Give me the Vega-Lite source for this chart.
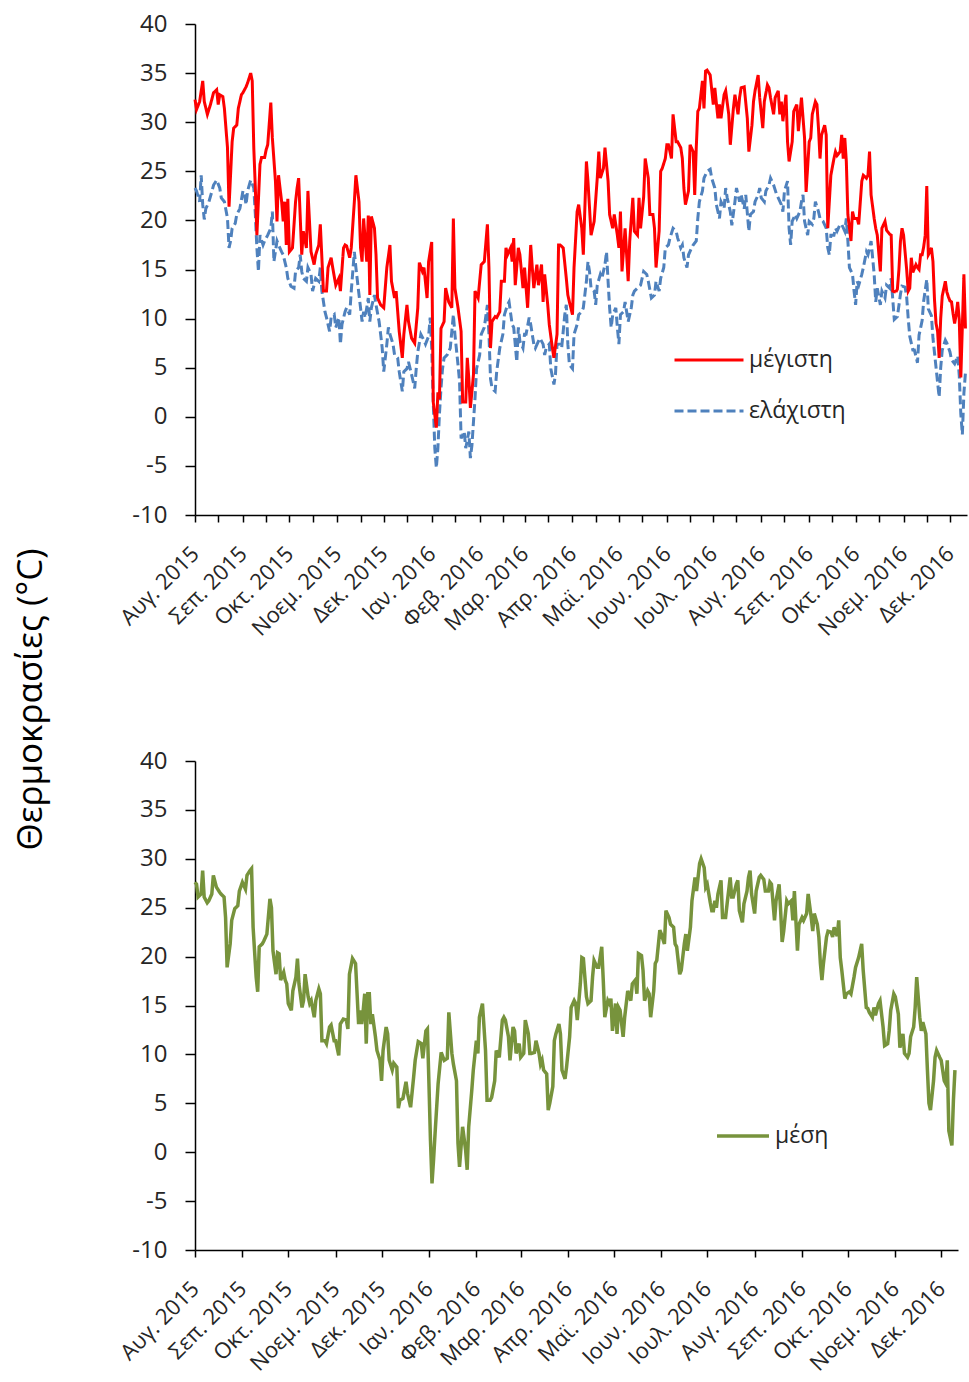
{
"$schema":"https://vega.github.io/schema/vega-lite/v6.json",
"background":"white",
"padding":{"left":13,"top":12,"right":2,"bottom":2},
"config":{"font":"Open Sans","view":{"stroke":null},
"axis":{"domainColor":"#000","domainWidth":1.5,"tickColor":"#000","tickWidth":1.5,"grid":false,"labelColor":"#262626","labelFont":"Open Sans","titleFont":"Open Sans","titleColor":"#000","titleFontWeight":"normal"},
"legend":{"labelFont":"Open Sans","labelColor":"#262626","labelFontSize":23}},
"datasets":{
"t":[
{"d":"2015-08-01","s":"μέγιστη","v":32.3},{"d":"2015-08-02","s":"μέγιστη","v":31.3},{"d":"2015-08-04","s":"μέγιστη","v":32.1},{"d":"2015-08-06","s":"μέγιστη","v":34.2},{"d":"2015-08-07","s":"μέγιστη","v":32.1},{"d":"2015-08-09","s":"μέγιστη","v":30.8},{"d":"2015-08-11","s":"μέγιστη","v":31.8},{"d":"2015-08-13","s":"μέγιστη","v":33},{"d":"2015-08-15","s":"μέγιστη","v":33.3},{"d":"2015-08-16","s":"μέγιστη","v":31.8},{"d":"2015-08-17","s":"μέγιστη","v":32.8},{"d":"2015-08-19","s":"μέγιστη","v":32.6},{"d":"2015-08-20","s":"μέγιστη","v":31.4},{"d":"2015-08-22","s":"μέγιστη","v":27.4},{"d":"2015-08-23","s":"μέγιστη","v":21.4},{"d":"2015-08-25","s":"μέγιστη","v":28},{"d":"2015-08-26","s":"μέγιστη","v":29.4},{"d":"2015-08-28","s":"μέγιστη","v":29.7},{"d":"2015-08-29","s":"μέγιστη","v":31.4},{"d":"2015-08-31","s":"μέγιστη","v":32.8},
{"d":"2015-09-01","s":"μέγιστη","v":33},{"d":"2015-09-03","s":"μέγιστη","v":33.6},{"d":"2015-09-04","s":"μέγιστη","v":34},{"d":"2015-09-06","s":"μέγιστη","v":35},{"d":"2015-09-07","s":"μέγιστη","v":34.2},{"d":"2015-09-08","s":"μέγιστη","v":27.4},{"d":"2015-09-09","s":"μέγιστη","v":23.3},{"d":"2015-09-10","s":"μέγιστη","v":18.5},{"d":"2015-09-12","s":"μέγιστη","v":25.7},{"d":"2015-09-13","s":"μέγιστη","v":26.4},{"d":"2015-09-15","s":"μέγιστη","v":26.4},{"d":"2015-09-16","s":"μέγιστη","v":27.2},{"d":"2015-09-17","s":"μέγιστη","v":27.7},{"d":"2015-09-19","s":"μέγιστη","v":32},{"d":"2015-09-20","s":"μέγιστη","v":28.4},{"d":"2015-09-22","s":"μέγιστη","v":24},{"d":"2015-09-23","s":"μέγιστη","v":19.9},{"d":"2015-09-24","s":"μέγιστη","v":24.6},{"d":"2015-09-26","s":"μέγιστη","v":21.9},{"d":"2015-09-27","s":"μέγιστη","v":19.9},{"d":"2015-09-28","s":"μέγιστη","v":21.9},{"d":"2015-09-29","s":"μέγιστη","v":17.5},{"d":"2015-09-30","s":"μέγιστη","v":22.2},
{"d":"2015-10-01","s":"μέγιστη","v":16.8},{"d":"2015-10-03","s":"μέγιστη","v":17.2},{"d":"2015-10-05","s":"μέγιστη","v":21.9},{"d":"2015-10-06","s":"μέγιστη","v":23.3},{"d":"2015-10-07","s":"μέγιστη","v":24.3},{"d":"2015-10-09","s":"μέγιστη","v":16.5},{"d":"2015-10-10","s":"μέγιστη","v":18.9},{"d":"2015-10-12","s":"μέγιστη","v":17.2},{"d":"2015-10-13","s":"μέγιστη","v":23},{"d":"2015-10-15","s":"μέγιστη","v":16.8},{"d":"2015-10-17","s":"μέγιστη","v":15.5},{"d":"2015-10-18","s":"μέγιστη","v":16.5},{"d":"2015-10-20","s":"μέγιστη","v":17.5},{"d":"2015-10-21","s":"μέγιστη","v":19.6},{"d":"2015-10-23","s":"μέγιστη","v":12.8},{"d":"2015-10-25","s":"μέγιστη","v":12.8},{"d":"2015-10-26","s":"μέγιστη","v":15.2},{"d":"2015-10-28","s":"μέγιστη","v":16.2},{"d":"2015-10-29","s":"μέγιστη","v":15.2},{"d":"2015-10-31","s":"μέγιστη","v":13.4},
{"d":"2015-11-02","s":"μέγιστη","v":14.1},{"d":"2015-11-03","s":"μέγιστη","v":12.8},{"d":"2015-11-05","s":"μέγιστη","v":17.2},{"d":"2015-11-06","s":"μέγιστη","v":17.5},{"d":"2015-11-07","s":"μέγιστη","v":17.4},{"d":"2015-11-09","s":"μέγιστη","v":16.2},{"d":"2015-11-10","s":"μέγιστη","v":17.2},{"d":"2015-11-12","s":"μέγιστη","v":21.9},{"d":"2015-11-13","s":"μέγιστη","v":24.6},{"d":"2015-11-15","s":"μέγιστη","v":21.9},{"d":"2015-11-16","s":"μέγιστη","v":17.2},{"d":"2015-11-17","s":"μέγιστη","v":15.8},{"d":"2015-11-18","s":"μέγιστη","v":20.2},{"d":"2015-11-20","s":"μέγιστη","v":15.8},{"d":"2015-11-21","s":"μέγιστη","v":20.5},{"d":"2015-11-22","s":"μέγιστη","v":12.4},{"d":"2015-11-23","s":"μέγιστη","v":20.4},{"d":"2015-11-25","s":"μέγιστη","v":19.2},{"d":"2015-11-26","s":"μέγιστη","v":16.5},{"d":"2015-11-27","s":"μέγιστη","v":12.1},{"d":"2015-11-29","s":"μέγιστη","v":11.4},
{"d":"2015-12-01","s":"μέγιστη","v":11.1},{"d":"2015-12-03","s":"μέγιστη","v":15.2},{"d":"2015-12-05","s":"μέγιστη","v":17.5},{"d":"2015-12-06","s":"μέγιστη","v":13.8},{"d":"2015-12-08","s":"μέγιστη","v":12.1},{"d":"2015-12-09","s":"μέγιστη","v":12.8},{"d":"2015-12-11","s":"μέγιστη","v":8.7},{"d":"2015-12-13","s":"μέγιστη","v":6},{"d":"2015-12-14","s":"μέγιστη","v":8.4},{"d":"2015-12-16","s":"μέγιστη","v":11.4},{"d":"2015-12-17","s":"μέγιστη","v":9.7},{"d":"2015-12-19","s":"μέγιστη","v":8},{"d":"2015-12-21","s":"μέγιστη","v":7.5},{"d":"2015-12-23","s":"μέγιστη","v":11.1},{"d":"2015-12-24","s":"μέγιστη","v":15.7},{"d":"2015-12-26","s":"μέγιστη","v":14.8},{"d":"2015-12-27","s":"μέγιστη","v":15.2},{"d":"2015-12-29","s":"μέγιστη","v":12.1},{"d":"2015-12-30","s":"μέγιστη","v":15.8},
{"d":"2016-01-01","s":"μέγιστη","v":17.8},{"d":"2016-01-02","s":"μέγιστη","v":1.5},{"d":"2016-01-04","s":"μέγιστη","v":-1.1},{"d":"2016-01-05","s":"μέγιστη","v":2.5},{"d":"2016-01-06","s":"μέγιστη","v":1.8},{"d":"2016-01-07","s":"μέγιστη","v":9},{"d":"2016-01-09","s":"μέγιστη","v":9.7},{"d":"2016-01-10","s":"μέγιστη","v":13.1},{"d":"2016-01-12","s":"μέγιστη","v":11.7},{"d":"2016-01-14","s":"μέγιστη","v":11.1},{"d":"2016-01-15","s":"μέγιστη","v":20.2},{"d":"2016-01-16","s":"μέγιστη","v":13.1},{"d":"2016-01-18","s":"μέγιστη","v":11.1},{"d":"2016-01-20","s":"μέγιστη","v":8.7},{"d":"2016-01-21","s":"μέγιστη","v":1.5},{"d":"2016-01-23","s":"μέγιστη","v":1.5},{"d":"2016-01-24","s":"μέγιστη","v":6},{"d":"2016-01-25","s":"μέγιστη","v":3.9},{"d":"2016-01-26","s":"μέγιστη","v":0.9},{"d":"2016-01-28","s":"μέγιστη","v":4.3},{"d":"2016-01-29","s":"μέγιστη","v":12.8},{"d":"2016-01-31","s":"μέγιστη","v":12.1},
{"d":"2016-02-01","s":"μέγιστη","v":13.8},{"d":"2016-02-02","s":"μέγιστη","v":15.5},{"d":"2016-02-04","s":"μέγιστη","v":15.8},{"d":"2016-02-06","s":"μέγιστη","v":19.6},{"d":"2016-02-07","s":"μέγιστη","v":15.2},{"d":"2016-02-08","s":"μέγιστη","v":7},{"d":"2016-02-09","s":"μέγιστη","v":9.7},{"d":"2016-02-11","s":"μέγιστη","v":10.2},{"d":"2016-02-12","s":"μέγιστη","v":10.1},{"d":"2016-02-14","s":"μέγιστη","v":10.7},{"d":"2016-02-15","s":"μέγιστη","v":13.8},{"d":"2016-02-17","s":"μέγιστη","v":13.8},{"d":"2016-02-18","s":"μέγιστη","v":17.2},{"d":"2016-02-19","s":"μέγιστη","v":16.5},{"d":"2016-02-21","s":"μέγιστη","v":17.2},{"d":"2016-02-22","s":"μέγιστη","v":15.8},{"d":"2016-02-23","s":"μέγιστη","v":18.2},{"d":"2016-02-24","s":"μέγιστη","v":13.4},{"d":"2016-02-26","s":"μέγιστη","v":17.2},{"d":"2016-02-27","s":"μέγιστη","v":16.5},{"d":"2016-02-29","s":"μέγιστη","v":13.1},
{"d":"2016-03-01","s":"μέγιστη","v":15.2},{"d":"2016-03-03","s":"μέγιστη","v":11.1},{"d":"2016-03-05","s":"μέγιστη","v":17.5},{"d":"2016-03-06","s":"μέγιστη","v":15.2},{"d":"2016-03-07","s":"μέγιστη","v":13.1},{"d":"2016-03-09","s":"μέγιστη","v":15.5},{"d":"2016-03-10","s":"μέγιστη","v":13.4},{"d":"2016-03-12","s":"μέγιστη","v":15.5},{"d":"2016-03-13","s":"μέγιστη","v":11.7},{"d":"2016-03-14","s":"μέγιστη","v":14.5},{"d":"2016-03-16","s":"μέγιστη","v":11.4},{"d":"2016-03-17","s":"μέγιστη","v":9.4},{"d":"2016-03-19","s":"μέγιστη","v":7},{"d":"2016-03-20","s":"μέγιστη","v":6},{"d":"2016-03-22","s":"μέγιστη","v":8.4},{"d":"2016-03-23","s":"μέγιστη","v":17.5},{"d":"2016-03-24","s":"μέγιστη","v":17.5},{"d":"2016-03-26","s":"μέγιστη","v":17.2},{"d":"2016-03-28","s":"μέγιστη","v":14.1},{"d":"2016-03-29","s":"μέγιστη","v":12.4},{"d":"2016-03-30","s":"μέγιστη","v":11.7},
{"d":"2016-04-01","s":"μέγιστη","v":10.4},{"d":"2016-04-02","s":"μέγιστη","v":15.2},{"d":"2016-04-04","s":"μέγιστη","v":20.9},{"d":"2016-04-05","s":"μέγιστη","v":21.6},{"d":"2016-04-07","s":"μέγιστη","v":19.2},{"d":"2016-04-08","s":"μέγιστη","v":16.5},{"d":"2016-04-10","s":"μέγιστη","v":26},{"d":"2016-04-11","s":"μέγιστη","v":24},{"d":"2016-04-12","s":"μέγιστη","v":21.3},{"d":"2016-04-13","s":"μέγιστη","v":18.5},{"d":"2016-04-15","s":"μέγιστη","v":19.9},{"d":"2016-04-17","s":"μέγιστη","v":24.3},{"d":"2016-04-18","s":"μέγιστη","v":27},{"d":"2016-04-19","s":"μέγιστη","v":24.3},{"d":"2016-04-21","s":"μέγιστη","v":25.3},{"d":"2016-04-22","s":"μέγιστη","v":27.4},{"d":"2016-04-24","s":"μέγιστη","v":24},{"d":"2016-04-25","s":"μέγιστη","v":20.6},{"d":"2016-04-27","s":"μέγιστη","v":19.2},{"d":"2016-04-28","s":"μέγιστη","v":20.6},{"d":"2016-04-30","s":"μέγιστη","v":18.5},
{"d":"2016-05-01","s":"μέγιστη","v":17.2},{"d":"2016-05-02","s":"μέγιστη","v":20.9},{"d":"2016-05-03","s":"μέγιστη","v":14.8},{"d":"2016-05-05","s":"μέγιστη","v":19.2},{"d":"2016-05-06","s":"μέγιστη","v":16.5},{"d":"2016-05-07","s":"μέγιστη","v":13.8},{"d":"2016-05-08","s":"μέγιστη","v":17.9},{"d":"2016-05-10","s":"μέγιστη","v":22.3},{"d":"2016-05-11","s":"μέγιστη","v":18.9},{"d":"2016-05-13","s":"μέγιστη","v":18.5},{"d":"2016-05-14","s":"μέγιστη","v":22.3},{"d":"2016-05-15","s":"μέγιστη","v":19.2},{"d":"2016-05-17","s":"μέγιστη","v":22.4},{"d":"2016-05-18","s":"μέγιστη","v":26.3},{"d":"2016-05-20","s":"μέγιστη","v":24.3},{"d":"2016-05-21","s":"μέγιστη","v":20.6},{"d":"2016-05-23","s":"μέγιστη","v":20.6},{"d":"2016-05-24","s":"μέγιστη","v":19.2},{"d":"2016-05-25","s":"μέγιστη","v":15.2},{"d":"2016-05-27","s":"μέγιστη","v":18.9},{"d":"2016-05-28","s":"μέγιστη","v":25},{"d":"2016-05-29","s":"μέγιστη","v":25.3},{"d":"2016-05-31","s":"μέγιστη","v":26.3},
{"d":"2016-06-01","s":"μέγιστη","v":27.7},{"d":"2016-06-02","s":"μέγιστη","v":27.7},{"d":"2016-06-04","s":"μέγιστη","v":26.3},{"d":"2016-06-05","s":"μέγιστη","v":30.8},{"d":"2016-06-07","s":"μέγιστη","v":28},{"d":"2016-06-08","s":"μέγιστη","v":28},{"d":"2016-06-10","s":"μέγιστη","v":27.4},{"d":"2016-06-11","s":"μέγιστη","v":26.3},{"d":"2016-06-12","s":"μέγιστη","v":23.3},{"d":"2016-06-13","s":"μέγιστη","v":21.6},{"d":"2016-06-15","s":"μέγιστη","v":23},{"d":"2016-06-16","s":"μέγιστη","v":27.7},{"d":"2016-06-18","s":"μέγιστη","v":27},{"d":"2016-06-19","s":"μέγιστη","v":22.6},{"d":"2016-06-20","s":"μέγιστη","v":27.4},{"d":"2016-06-21","s":"μέγιστη","v":31.1},{"d":"2016-06-22","s":"μέγιστη","v":31.4},{"d":"2016-06-24","s":"μέγιστη","v":34.2},{"d":"2016-06-25","s":"μέγιστη","v":31.4},{"d":"2016-06-26","s":"μέγιστη","v":35.2},{"d":"2016-06-27","s":"μέγιστη","v":35.3},{"d":"2016-06-29","s":"μέγιστη","v":34.8},
{"d":"2016-07-01","s":"μέγιστη","v":31.8},{"d":"2016-07-02","s":"μέγιστη","v":33.5},{"d":"2016-07-04","s":"μέγιστη","v":30.4},{"d":"2016-07-05","s":"μέγιστη","v":31.8},{"d":"2016-07-06","s":"μέγιστη","v":30.4},{"d":"2016-07-08","s":"μέγιστη","v":32.8},{"d":"2016-07-09","s":"μέγιστη","v":33.2},{"d":"2016-07-11","s":"μέγιστη","v":30.8},{"d":"2016-07-12","s":"μέγιστη","v":27.7},{"d":"2016-07-14","s":"μέγιστη","v":31.4},{"d":"2016-07-15","s":"μέγιστη","v":32.8},{"d":"2016-07-17","s":"μέγιστη","v":30.8},{"d":"2016-07-18","s":"μέγιστη","v":32.5},{"d":"2016-07-19","s":"μέγιστη","v":33.5},{"d":"2016-07-21","s":"μέγιστη","v":33.6},{"d":"2016-07-23","s":"μέγιστη","v":30.4},{"d":"2016-07-24","s":"μέγιστη","v":27},{"d":"2016-07-26","s":"μέγιστη","v":29.7},{"d":"2016-07-27","s":"μέγιστη","v":32.1},{"d":"2016-07-28","s":"μέγιστη","v":33.2},{"d":"2016-07-30","s":"μέγιστη","v":34.8},{"d":"2016-07-31","s":"μέγιστη","v":32.5},
{"d":"2016-08-02","s":"μέγιστη","v":29.4},{"d":"2016-08-03","s":"μέγιστη","v":32.1},{"d":"2016-08-05","s":"μέγιστη","v":33.8},{"d":"2016-08-06","s":"μέγιστη","v":33.5},{"d":"2016-08-07","s":"μέγιστη","v":32.5},{"d":"2016-08-09","s":"μέγιστη","v":30.8},{"d":"2016-08-10","s":"μέγιστη","v":32.5},{"d":"2016-08-12","s":"μέγιστη","v":33.2},{"d":"2016-08-13","s":"μέγιστη","v":30.8},{"d":"2016-08-14","s":"μέγιστη","v":32.1},{"d":"2016-08-15","s":"μέγιστη","v":30.1},{"d":"2016-08-17","s":"μέγιστη","v":32.8},{"d":"2016-08-18","s":"μέγιστη","v":28},{"d":"2016-08-19","s":"μέγιστη","v":26},{"d":"2016-08-21","s":"μέγιστη","v":28},{"d":"2016-08-22","s":"μέγιστη","v":31.1},{"d":"2016-08-24","s":"μέγιστη","v":31.8},{"d":"2016-08-25","s":"μέγιστη","v":29.1},{"d":"2016-08-26","s":"μέγιστη","v":30.8},{"d":"2016-08-27","s":"μέγιστη","v":32.5},{"d":"2016-08-29","s":"μέγιστη","v":28.4},{"d":"2016-08-30","s":"μέγιστη","v":22.9},
{"d":"2016-09-01","s":"μέγιστη","v":28},{"d":"2016-09-02","s":"μέγιστη","v":28.4},{"d":"2016-09-03","s":"μέγιστη","v":30.8},{"d":"2016-09-05","s":"μέγιστη","v":32.1},{"d":"2016-09-06","s":"μέγιστη","v":31.8},{"d":"2016-09-07","s":"μέγιστη","v":29.4},{"d":"2016-09-08","s":"μέγιστη","v":26.3},{"d":"2016-09-09","s":"μέγιστη","v":28.7},{"d":"2016-09-11","s":"μέγιστη","v":29.7},{"d":"2016-09-12","s":"μέγιστη","v":28.7},{"d":"2016-09-13","s":"μέγιστη","v":19.2},{"d":"2016-09-15","s":"μέγιστη","v":24.6},{"d":"2016-09-17","s":"μέγιστη","v":26.3},{"d":"2016-09-18","s":"μέγιστη","v":27},{"d":"2016-09-19","s":"μέγιστη","v":26.6},{"d":"2016-09-21","s":"μέγιστη","v":27},{"d":"2016-09-22","s":"μέγιστη","v":28.7},{"d":"2016-09-23","s":"μέγιστη","v":26.3},{"d":"2016-09-24","s":"μέγιστη","v":28.4},{"d":"2016-09-25","s":"μέγιστη","v":26},{"d":"2016-09-26","s":"μέγιστη","v":20.6},{"d":"2016-09-28","s":"μέγιστη","v":17.9},{"d":"2016-09-29","s":"μέγιστη","v":20.9},{"d":"2016-09-30","s":"μέγιστη","v":20.2},
{"d":"2016-10-02","s":"μέγιστη","v":20.2},{"d":"2016-10-03","s":"μέγιστη","v":19.6},{"d":"2016-10-05","s":"μέγιστη","v":24},{"d":"2016-10-06","s":"μέγιστη","v":24.6},{"d":"2016-10-08","s":"μέγιστη","v":24.3},{"d":"2016-10-09","s":"μέγιστη","v":24.6},{"d":"2016-10-10","s":"μέγιστη","v":27},{"d":"2016-10-11","s":"μέγιστη","v":22.6},{"d":"2016-10-13","s":"μέγιστη","v":20.2},{"d":"2016-10-14","s":"μέγιστη","v":19.2},{"d":"2016-10-15","s":"μέγιστη","v":18.5},{"d":"2016-10-17","s":"μέγιστη","v":14.8},{"d":"2016-10-18","s":"μέγιστη","v":19.2},{"d":"2016-10-20","s":"μέγιστη","v":19.9},{"d":"2016-10-21","s":"μέγιστη","v":19},{"d":"2016-10-23","s":"μέγιστη","v":18.6},{"d":"2016-10-24","s":"μέγιστη","v":18.5},{"d":"2016-10-25","s":"μέγιστη","v":12.8},{"d":"2016-10-27","s":"μέγιστη","v":12.7},{"d":"2016-10-28","s":"μέγιστη","v":13},{"d":"2016-10-29","s":"μέγιστη","v":15},{"d":"2016-10-30","s":"μέγιστη","v":17.9},{"d":"2016-10-31","s":"μέγιστη","v":19.2},
{"d":"2016-11-01","s":"μέγιστη","v":18.5},{"d":"2016-11-03","s":"μέγιστη","v":15},{"d":"2016-11-04","s":"μέγιστη","v":12.8},{"d":"2016-11-05","s":"μέγιστη","v":13.1},{"d":"2016-11-06","s":"μέγιστη","v":16.2},{"d":"2016-11-07","s":"μέγιστη","v":14.7},{"d":"2016-11-09","s":"μέγιστη","v":15.5},{"d":"2016-11-10","s":"μέγιστη","v":15.2},{"d":"2016-11-11","s":"μέγιστη","v":15},{"d":"2016-11-12","s":"μέγιστη","v":16.5},{"d":"2016-11-13","s":"μέγιστη","v":16.5},{"d":"2016-11-14","s":"μέγιστη","v":17.3},{"d":"2016-11-15","s":"μέγιστη","v":18.5},{"d":"2016-11-16","s":"μέγιστη","v":23.5},{"d":"2016-11-17","s":"μέγιστη","v":16.5},{"d":"2016-11-18","s":"μέγιστη","v":16.8},{"d":"2016-11-19","s":"μέγιστη","v":17.2},{"d":"2016-11-20","s":"μέγιστη","v":15.8},{"d":"2016-11-21","s":"μέγιστη","v":11.9},{"d":"2016-11-22","s":"μέγιστη","v":9.5},{"d":"2016-11-23","s":"μέγιστη","v":8.7},{"d":"2016-11-24","s":"μέγιστη","v":6},{"d":"2016-11-25","s":"μέγιστη","v":10},{"d":"2016-11-26","s":"μέγιστη","v":12.3},{"d":"2016-11-28","s":"μέγιστη","v":13.8},{"d":"2016-11-29","s":"μέγιστη","v":12.7},{"d":"2016-11-30","s":"μέγιστη","v":12.2},
{"d":"2016-12-01","s":"μέγιστη","v":11.8},{"d":"2016-12-02","s":"μέγιστη","v":11.7},{"d":"2016-12-03","s":"μέγιστη","v":10.5},{"d":"2016-12-04","s":"μέγιστη","v":9.5},{"d":"2016-12-05","s":"μέγιστη","v":10.4},{"d":"2016-12-06","s":"μέγιστη","v":11.7},{"d":"2016-12-07","s":"μέγιστη","v":9.9},{"d":"2016-12-08","s":"μέγιστη","v":4},{"d":"2016-12-10","s":"μέγιστη","v":14.5},{"d":"2016-12-11","s":"μέγιστη","v":9},
{"d":"2015-08-01","s":"ελάχιστη","v":23.3},{"d":"2015-08-02","s":"ελάχιστη","v":23},{"d":"2015-08-04","s":"ελάχιστη","v":21.9},{"d":"2015-08-05","s":"ελάχιστη","v":24.6},{"d":"2015-08-06","s":"ελάχιστη","v":21.6},{"d":"2015-08-07","s":"ελάχιστη","v":20.1},{"d":"2015-08-08","s":"ελάχιστη","v":21.2},{"d":"2015-08-10","s":"ελάχιστη","v":21.9},{"d":"2015-08-12","s":"ελάχιστη","v":23},{"d":"2015-08-13","s":"ελάχιστη","v":23.6},{"d":"2015-08-15","s":"ελάχιστη","v":24.1},{"d":"2015-08-17","s":"ελάχιστη","v":23.3},{"d":"2015-08-18","s":"ελάχιστη","v":22.3},{"d":"2015-08-20","s":"ελάχιστη","v":21.9},{"d":"2015-08-22","s":"ελάχιστη","v":20.2},{"d":"2015-08-23","s":"ελάχιστη","v":17.2},{"d":"2015-08-24","s":"ελάχιστη","v":17.9},{"d":"2015-08-25","s":"ελάχιστη","v":19.2},{"d":"2015-08-27","s":"ελάχιστη","v":19.7},{"d":"2015-08-28","s":"ελάχιστη","v":20.6},{"d":"2015-08-30","s":"ελάχιστη","v":21.2},
{"d":"2015-09-01","s":"ελάχιστη","v":23},{"d":"2015-09-02","s":"ελάχιστη","v":22.6},{"d":"2015-09-03","s":"ελάχιστη","v":21.6},{"d":"2015-09-04","s":"ελάχιστη","v":23},{"d":"2015-09-06","s":"ελάχιστη","v":24.1},{"d":"2015-09-08","s":"ελάχιστη","v":23.3},{"d":"2015-09-09","s":"ελάχιστη","v":20.6},{"d":"2015-09-10","s":"ελάχιστη","v":17.2},{"d":"2015-09-11","s":"ελάχιστη","v":14.8},{"d":"2015-09-12","s":"ελάχιστη","v":18.5},{"d":"2015-09-14","s":"ελάχιστη","v":17.5},{"d":"2015-09-15","s":"ελάχιστη","v":17.9},{"d":"2015-09-17","s":"ελάχιστη","v":18.5},{"d":"2015-09-19","s":"ελάχιστη","v":19.2},{"d":"2015-09-20","s":"ελάχιστη","v":20.9},{"d":"2015-09-21","s":"ελάχιστη","v":15.8},{"d":"2015-09-23","s":"ελάχιστη","v":17.9},{"d":"2015-09-24","s":"ελάχιστη","v":17.5},{"d":"2015-09-26","s":"ελάχιστη","v":16.8},{"d":"2015-09-27","s":"ελάχιστη","v":16.5},{"d":"2015-09-29","s":"ελάχιστη","v":15.2},{"d":"2015-09-30","s":"ελάχιστη","v":14.1},
{"d":"2015-10-02","s":"ελάχιστη","v":13.3},{"d":"2015-10-04","s":"ελάχιστη","v":13.1},{"d":"2015-10-05","s":"ελάχιστη","v":14.8},{"d":"2015-10-07","s":"ελάχιστη","v":15.2},{"d":"2015-10-08","s":"ελάχιστη","v":16.5},{"d":"2015-10-09","s":"ελάχιστη","v":14.8},{"d":"2015-10-10","s":"ελάχιστη","v":14.1},{"d":"2015-10-12","s":"ελάχιστη","v":13.8},{"d":"2015-10-13","s":"ελάχιστη","v":15.2},{"d":"2015-10-15","s":"ελάχιστη","v":14.5},{"d":"2015-10-16","s":"ελάχιστη","v":12.8},{"d":"2015-10-18","s":"ελάχιστη","v":14.1},{"d":"2015-10-20","s":"ελάχιστη","v":13.8},{"d":"2015-10-21","s":"ελάχιστη","v":15.2},{"d":"2015-10-22","s":"ελάχιστη","v":12.8},{"d":"2015-10-24","s":"ελάχιστη","v":10.7},{"d":"2015-10-25","s":"ελάχιστη","v":10.1},{"d":"2015-10-27","s":"ελάχιστη","v":8.7},{"d":"2015-10-28","s":"ελάχιστη","v":10.1},{"d":"2015-10-30","s":"ελάχιστη","v":10.4},{"d":"2015-10-31","s":"ελάχιστη","v":9.1},
{"d":"2015-11-02","s":"ελάχιστη","v":10.1},{"d":"2015-11-03","s":"ελάχιστη","v":7.4},{"d":"2015-11-04","s":"ελάχιστη","v":9.4},{"d":"2015-11-06","s":"ελάχιστη","v":10.7},{"d":"2015-11-07","s":"ελάχιστη","v":11.1},{"d":"2015-11-09","s":"ελάχιστη","v":10.4},{"d":"2015-11-10","s":"ελάχιστη","v":12.8},{"d":"2015-11-12","s":"ελάχιστη","v":16.8},{"d":"2015-11-13","s":"ελάχιστη","v":15.2},{"d":"2015-11-14","s":"ελάχιστη","v":13.8},{"d":"2015-11-16","s":"ελάχιστη","v":11.1},{"d":"2015-11-17","s":"ελάχιστη","v":9.7},{"d":"2015-11-18","s":"ελάχιστη","v":10.7},{"d":"2015-11-19","s":"ελάχιστη","v":10.1},{"d":"2015-11-21","s":"ελάχιστη","v":12.1},{"d":"2015-11-22","s":"ελάχιστη","v":9.7},{"d":"2015-11-23","s":"ελάχιστη","v":11.1},{"d":"2015-11-25","s":"ελάχιστη","v":12.4},{"d":"2015-11-26","s":"ελάχιστη","v":11.4},{"d":"2015-11-28","s":"ελάχιστη","v":9.7},{"d":"2015-11-29","s":"ελάχιστη","v":8.4},{"d":"2015-11-30","s":"ελάχιστη","v":7},
{"d":"2015-12-01","s":"ελάχιστη","v":4.6},{"d":"2015-12-03","s":"ελάχιστη","v":7.4},{"d":"2015-12-04","s":"ελάχιστη","v":9.1},{"d":"2015-12-05","s":"ελάχιστη","v":8.4},{"d":"2015-12-07","s":"ελάχιστη","v":7.4},{"d":"2015-12-08","s":"ελάχιστη","v":6.3},{"d":"2015-12-10","s":"ελάχιστη","v":6},{"d":"2015-12-11","s":"ελάχιστη","v":4.6},{"d":"2015-12-13","s":"ελάχιστη","v":2.6},{"d":"2015-12-14","s":"ελάχιστη","v":4.6},{"d":"2015-12-16","s":"ελάχιστη","v":4.9},{"d":"2015-12-17","s":"ελάχιστη","v":5.6},{"d":"2015-12-19","s":"ελάχιστη","v":4.3},{"d":"2015-12-21","s":"ελάχιστη","v":2.9},{"d":"2015-12-22","s":"ελάχιστη","v":4.9},{"d":"2015-12-23","s":"ελάχιστη","v":6.6},{"d":"2015-12-25","s":"ελάχιστη","v":8.4},{"d":"2015-12-27","s":"ελάχιστη","v":7.8},{"d":"2015-12-28","s":"ελάχιστη","v":7.4},{"d":"2015-12-30","s":"ελάχιστη","v":8.2},{"d":"2015-12-31","s":"ελάχιστη","v":10.1},
{"d":"2016-01-01","s":"ελάχιστη","v":7},{"d":"2016-01-02","s":"ελάχιστη","v":1.5},{"d":"2016-01-03","s":"ελάχιστη","v":-3.2},{"d":"2016-01-04","s":"ελάχιστη","v":-5.2},{"d":"2016-01-05","s":"ελάχιστη","v":-3.2},{"d":"2016-01-06","s":"ελάχιστη","v":0.3},{"d":"2016-01-07","s":"ελάχιστη","v":2.9},{"d":"2016-01-08","s":"ελάχιστη","v":4.9},{"d":"2016-01-09","s":"ελάχιστη","v":6},{"d":"2016-01-11","s":"ελάχιστη","v":6.3},{"d":"2016-01-13","s":"ελάχιστη","v":7},{"d":"2016-01-15","s":"ελάχιστη","v":10.4},{"d":"2016-01-16","s":"ελάχιστη","v":8.4},{"d":"2016-01-18","s":"ελάχιστη","v":5.3},{"d":"2016-01-19","s":"ελάχιστη","v":3.6},{"d":"2016-01-20","s":"ελάχιστη","v":-2.2},{"d":"2016-01-22","s":"ελάχιστη","v":-1.5},{"d":"2016-01-23","s":"ελάχιστη","v":-3.2},{"d":"2016-01-25","s":"ελάχιστη","v":-1.5},{"d":"2016-01-26","s":"ελάχιστη","v":-4.2},{"d":"2016-01-27","s":"ελάχιστη","v":-2.9},{"d":"2016-01-29","s":"ελάχιστη","v":1.9},{"d":"2016-01-30","s":"ελάχιστη","v":4.9},
{"d":"2016-02-01","s":"ελάχιστη","v":6.3},{"d":"2016-02-02","s":"ελάχιστη","v":8.4},{"d":"2016-02-04","s":"ελάχιστη","v":9.1},{"d":"2016-02-06","s":"ελάχιστη","v":11.4},{"d":"2016-02-07","s":"ελάχιστη","v":8.4},{"d":"2016-02-08","s":"ελάχιστη","v":3.9},{"d":"2016-02-09","s":"ελάχιστη","v":2.9},{"d":"2016-02-11","s":"ελάχιστη","v":2.6},{"d":"2016-02-12","s":"ελάχιστη","v":4.6},{"d":"2016-02-14","s":"ελάχιστη","v":7},{"d":"2016-02-16","s":"ελάχιστη","v":8.4},{"d":"2016-02-17","s":"ελάχιστη","v":10.4},{"d":"2016-02-19","s":"ελάχιστη","v":11.4},{"d":"2016-02-20","s":"ελάχιστη","v":11.7},{"d":"2016-02-22","s":"ελάχιστη","v":9.4},{"d":"2016-02-23","s":"ελάχιστη","v":9.1},{"d":"2016-02-25","s":"ελάχιστη","v":5.6},{"d":"2016-02-26","s":"ελάχιστη","v":9.1},{"d":"2016-02-27","s":"ελάχιστη","v":7.7},{"d":"2016-02-29","s":"ελάχιστη","v":7},
{"d":"2016-03-01","s":"ελάχιστη","v":8.4},{"d":"2016-03-02","s":"ελάχιστη","v":8.4},{"d":"2016-03-04","s":"ελάχιστη","v":10.1},{"d":"2016-03-05","s":"ελάχιστη","v":9.4},{"d":"2016-03-07","s":"ελάχιστη","v":7.4},{"d":"2016-03-08","s":"ελάχιστη","v":7},{"d":"2016-03-10","s":"ελάχιστη","v":7.7},{"d":"2016-03-11","s":"ελάχιστη","v":8},{"d":"2016-03-13","s":"ελάχιστη","v":7.4},{"d":"2016-03-14","s":"ελάχιστη","v":6.3},{"d":"2016-03-15","s":"ελάχιστη","v":7},{"d":"2016-03-17","s":"ελάχιστη","v":7.4},{"d":"2016-03-18","s":"ελάχιστη","v":4.9},{"d":"2016-03-20","s":"ελάχιστη","v":3.3},{"d":"2016-03-21","s":"ελάχιστη","v":4.3},{"d":"2016-03-22","s":"ελάχιστη","v":7.4},{"d":"2016-03-24","s":"ελάχιστη","v":7.4},{"d":"2016-03-25","s":"ελάχιστη","v":7},{"d":"2016-03-27","s":"ελάχιστη","v":10.4},{"d":"2016-03-28","s":"ελάχιστη","v":11.4},{"d":"2016-03-29","s":"ελάχιστη","v":7.4},{"d":"2016-03-30","s":"ελάχιστη","v":5.3},
{"d":"2016-04-01","s":"ελάχιστη","v":4.9},{"d":"2016-04-02","s":"ελάχιστη","v":8.4},{"d":"2016-04-04","s":"ελάχιστη","v":9.4},{"d":"2016-04-05","s":"ελάχιστη","v":10.4},{"d":"2016-04-07","s":"ελάχιστη","v":10.7},{"d":"2016-04-08","s":"ελάχιστη","v":11.1},{"d":"2016-04-10","s":"ελάχιστη","v":13.8},{"d":"2016-04-11","s":"ελάχιστη","v":15.8},{"d":"2016-04-12","s":"ελάχιστη","v":14.8},{"d":"2016-04-13","s":"ελάχιστη","v":13.1},{"d":"2016-04-15","s":"ελάχιστη","v":12.8},{"d":"2016-04-16","s":"ελάχιστη","v":11.4},{"d":"2016-04-17","s":"ελάχιστη","v":13.4},{"d":"2016-04-19","s":"ελάχιστη","v":14.5},{"d":"2016-04-20","s":"ελάχιστη","v":14.1},{"d":"2016-04-22","s":"ελάχιστη","v":15.5},{"d":"2016-04-23","s":"ελάχιστη","v":16.8},{"d":"2016-04-24","s":"ελάχιστη","v":13.8},{"d":"2016-04-25","s":"ελάχιστη","v":11.1},{"d":"2016-04-26","s":"ελάχιστη","v":9.1},{"d":"2016-04-27","s":"ελάχιστη","v":10.4},{"d":"2016-04-29","s":"ελάχιστη","v":11.1},{"d":"2016-04-30","s":"ελάχιστη","v":9.1},
{"d":"2016-05-01","s":"ελάχιστη","v":7.4},{"d":"2016-05-02","s":"ελάχιστη","v":10.4},{"d":"2016-05-04","s":"ελάχιστη","v":10.7},{"d":"2016-05-05","s":"ελάχιστη","v":11.7},{"d":"2016-05-07","s":"ελάχιστη","v":9.7},{"d":"2016-05-09","s":"ελάχιστη","v":11.1},{"d":"2016-05-10","s":"ελάχιστη","v":12.4},{"d":"2016-05-11","s":"ελάχιστη","v":12.8},{"d":"2016-05-13","s":"ελάχιστη","v":13.1},{"d":"2016-05-15","s":"ελάχιστη","v":13.4},{"d":"2016-05-16","s":"ελάχιστη","v":14.1},{"d":"2016-05-17","s":"ελάχιστη","v":14.8},{"d":"2016-05-19","s":"ελάχιστη","v":14.5},{"d":"2016-05-20","s":"ελάχιστη","v":13.8},{"d":"2016-05-22","s":"ελάχιστη","v":12.1},{"d":"2016-05-24","s":"ελάχιστη","v":12.4},{"d":"2016-05-25","s":"ελάχιστη","v":13.8},{"d":"2016-05-27","s":"ελάχιστη","v":12.8},{"d":"2016-05-28","s":"ελάχιστη","v":14.1},{"d":"2016-05-30","s":"ελάχιστη","v":15.2},{"d":"2016-05-31","s":"ελάχιστη","v":17.2},
{"d":"2016-06-02","s":"ελάχιστη","v":17.5},{"d":"2016-06-03","s":"ελάχιστη","v":18.2},{"d":"2016-06-05","s":"ελάχιστη","v":19.2},{"d":"2016-06-07","s":"ελάχιστη","v":18.9},{"d":"2016-06-08","s":"ελάχιστη","v":18.2},{"d":"2016-06-10","s":"ελάχιστη","v":17.2},{"d":"2016-06-11","s":"ελάχιστη","v":17.5},{"d":"2016-06-12","s":"ελάχιστη","v":16.2},{"d":"2016-06-14","s":"ελάχιστη","v":15.2},{"d":"2016-06-15","s":"ελάχιστη","v":16.5},{"d":"2016-06-17","s":"ελάχιστη","v":17.2},{"d":"2016-06-18","s":"ελάχιστη","v":17.5},{"d":"2016-06-20","s":"ελάχιστη","v":17.9},{"d":"2016-06-21","s":"ελάχιστη","v":20.2},{"d":"2016-06-22","s":"ελάχιστη","v":21.9},{"d":"2016-06-24","s":"ελάχιστη","v":23},{"d":"2016-06-25","s":"ελάχιστη","v":24.3},{"d":"2016-06-27","s":"ελάχιστη","v":25},{"d":"2016-06-29","s":"ελάχιστη","v":25.2},{"d":"2016-06-30","s":"ελάχιστη","v":24.3},
{"d":"2016-07-02","s":"ελάχιστη","v":23.3},{"d":"2016-07-03","s":"ελάχιστη","v":21.6},{"d":"2016-07-05","s":"ελάχιστη","v":20.2},{"d":"2016-07-06","s":"ελάχιστη","v":21.9},{"d":"2016-07-08","s":"ελάχιστη","v":21.2},{"d":"2016-07-09","s":"ελάχιστη","v":23.3},{"d":"2016-07-10","s":"ελάχιστη","v":22.3},{"d":"2016-07-12","s":"ελάχιστη","v":20.9},{"d":"2016-07-13","s":"ελάχιστη","v":19.5},{"d":"2016-07-15","s":"ελάχιστη","v":21.9},{"d":"2016-07-16","s":"ελάχιστη","v":23.3},{"d":"2016-07-18","s":"ελάχιστη","v":21.9},{"d":"2016-07-19","s":"ελάχιστη","v":22.6},{"d":"2016-07-21","s":"ελάχιστη","v":21.2},{"d":"2016-07-22","s":"ελάχιστη","v":22.6},{"d":"2016-07-24","s":"ελάχιστη","v":18.9},{"d":"2016-07-25","s":"ελάχιστη","v":20.6},{"d":"2016-07-27","s":"ελάχιστη","v":20.9},{"d":"2016-07-28","s":"ελάχιστη","v":21.9},{"d":"2016-07-30","s":"ελάχιστη","v":22.6},{"d":"2016-07-31","s":"ελάχιστη","v":23.3},
{"d":"2016-08-01","s":"ελάχιστη","v":22.3},{"d":"2016-08-03","s":"ελάχιστη","v":21.9},{"d":"2016-08-04","s":"ελάχιστη","v":23},{"d":"2016-08-06","s":"ελάχιστη","v":23.6},{"d":"2016-08-07","s":"ελάχιστη","v":24.3},{"d":"2016-08-09","s":"ελάχιστη","v":23.6},{"d":"2016-08-11","s":"ελάχιστη","v":22.6},{"d":"2016-08-12","s":"ελάχιστη","v":22.3},{"d":"2016-08-14","s":"ελάχιστη","v":21.6},{"d":"2016-08-15","s":"ελάχιστη","v":20.9},{"d":"2016-08-16","s":"ελάχιστη","v":23},{"d":"2016-08-18","s":"ελάχιστη","v":24},{"d":"2016-08-19","s":"ελάχιστη","v":19.2},{"d":"2016-08-20","s":"ελάχιστη","v":17.5},{"d":"2016-08-21","s":"ελάχιστη","v":19.9},{"d":"2016-08-23","s":"ελάχιστη","v":20.6},{"d":"2016-08-24","s":"ελάχιστη","v":20.2},{"d":"2016-08-26","s":"ελάχιστη","v":20.9},{"d":"2016-08-27","s":"ελάχιστη","v":21.9},{"d":"2016-08-28","s":"ελάχιστη","v":22.6},{"d":"2016-08-29","s":"ελάχιστη","v":19.9},{"d":"2016-08-31","s":"ελάχιστη","v":18.5},
{"d":"2016-09-01","s":"ελάχιστη","v":19.9},{"d":"2016-09-03","s":"ελάχιστη","v":19.6},{"d":"2016-09-04","s":"ελάχιστη","v":20.2},{"d":"2016-09-05","s":"ελάχιστη","v":21.9},{"d":"2016-09-07","s":"ελάχιστη","v":20.9},{"d":"2016-09-08","s":"ελάχιστη","v":20.2},{"d":"2016-09-10","s":"ελάχιστη","v":19.9},{"d":"2016-09-12","s":"ελάχιστη","v":19.2},{"d":"2016-09-13","s":"ελάχιστη","v":17.2},{"d":"2016-09-14","s":"ελάχιστη","v":16.5},{"d":"2016-09-15","s":"ελάχιστη","v":18.5},{"d":"2016-09-17","s":"ελάχιστη","v":18.5},{"d":"2016-09-18","s":"ελάχιστη","v":19.2},{"d":"2016-09-19","s":"ελάχιστη","v":18.9},{"d":"2016-09-21","s":"ελάχιστη","v":19.6},{"d":"2016-09-22","s":"ελάχιστη","v":19.6},{"d":"2016-09-24","s":"ελάχιστη","v":18.9},{"d":"2016-09-25","s":"ελάχιστη","v":20.2},{"d":"2016-09-26","s":"ελάχιστη","v":17.9},{"d":"2016-09-27","s":"ελάχιστη","v":15.2},{"d":"2016-09-29","s":"ελάχιστη","v":14.5},{"d":"2016-09-30","s":"ελάχιστη","v":12.8},
{"d":"2016-10-01","s":"ελάχιστη","v":11.4},{"d":"2016-10-02","s":"ελάχιστη","v":13.8},{"d":"2016-10-03","s":"ελάχιστη","v":13.4},{"d":"2016-10-05","s":"ελάχιστη","v":14.5},{"d":"2016-10-06","s":"ελάχιστη","v":15.2},{"d":"2016-10-08","s":"ελάχιστη","v":16.8},{"d":"2016-10-09","s":"ελάχιστη","v":16.5},{"d":"2016-10-10","s":"ελάχιστη","v":17.2},{"d":"2016-10-11","s":"ελάχιστη","v":17.9},{"d":"2016-10-13","s":"ελάχιστη","v":14.5},{"d":"2016-10-14","s":"ελάχιστη","v":11.7},{"d":"2016-10-15","s":"ελάχιστη","v":13.1},{"d":"2016-10-17","s":"ελάχιστη","v":11.4},{"d":"2016-10-18","s":"ελάχιστη","v":12.8},{"d":"2016-10-20","s":"ελάχιστη","v":12.1},{"d":"2016-10-21","s":"ελάχιστη","v":13.4},{"d":"2016-10-23","s":"ελάχιστη","v":13.1},{"d":"2016-10-24","s":"ελάχιστη","v":14.1},{"d":"2016-10-25","s":"ελάχιστη","v":12},{"d":"2016-10-26","s":"ελάχιστη","v":9.9},{"d":"2016-10-28","s":"ελάχιστη","v":10.2},{"d":"2016-10-30","s":"ελάχιστη","v":12.5},{"d":"2016-10-31","s":"ελάχιστη","v":13.3},
{"d":"2016-11-02","s":"ελάχιστη","v":13.2},{"d":"2016-11-03","s":"ελάχιστη","v":12.2},{"d":"2016-11-04","s":"ελάχιστη","v":10},{"d":"2016-11-05","s":"ελάχιστη","v":8.2},{"d":"2016-11-07","s":"ελάχιστη","v":6.8},{"d":"2016-11-08","s":"ελάχιστη","v":6.8},{"d":"2016-11-10","s":"ελάχιστη","v":5.5},{"d":"2016-11-11","s":"ελάχιστη","v":8.3},{"d":"2016-11-13","s":"ελάχιστη","v":9.8},{"d":"2016-11-14","s":"ελάχιστη","v":11.8},{"d":"2016-11-16","s":"ελάχιστη","v":14},{"d":"2016-11-17","s":"ελάχιστη","v":11},{"d":"2016-11-19","s":"ελάχιστη","v":10.3},{"d":"2016-11-20","s":"ελάχιστη","v":8},{"d":"2016-11-21","s":"ελάχιστη","v":6.5},{"d":"2016-11-22","s":"ελάχιστη","v":5},{"d":"2016-11-24","s":"ελάχιστη","v":2},{"d":"2016-11-25","s":"ελάχιστη","v":5},{"d":"2016-11-26","s":"ελάχιστη","v":6.8},{"d":"2016-11-28","s":"ελάχιστη","v":7.8},{"d":"2016-11-29","s":"ελάχιστη","v":7.5},
{"d":"2016-12-01","s":"ελάχιστη","v":6.6},{"d":"2016-12-02","s":"ελάχιστη","v":5.8},{"d":"2016-12-04","s":"ελάχιστη","v":5.4},{"d":"2016-12-06","s":"ελάχιστη","v":6.2},{"d":"2016-12-07","s":"ελάχιστη","v":4.2},{"d":"2016-12-08","s":"ελάχιστη","v":0.3},{"d":"2016-12-09","s":"ελάχιστη","v":-1.8},{"d":"2016-12-10","s":"ελάχιστη","v":2.4},{"d":"2016-12-11","s":"ελάχιστη","v":4.5}
],
"m":[
{"d":"2015-08-01","v":27.6},{"d":"2015-08-02","v":27.4},{"d":"2015-08-03","v":26.1},{"d":"2015-08-05","v":26.4},{"d":"2015-08-06","v":28.8},{"d":"2015-08-07","v":26.1},{"d":"2015-08-09","v":25.5},{"d":"2015-08-10","v":25.7},{"d":"2015-08-12","v":26.4},{"d":"2015-08-13","v":28.3},{"d":"2015-08-15","v":27.1},{"d":"2015-08-17","v":26.6},{"d":"2015-08-18","v":26.4},{"d":"2015-08-20","v":26.1},{"d":"2015-08-21","v":24},{"d":"2015-08-22","v":18.9},{"d":"2015-08-24","v":21.3},{"d":"2015-08-25","v":23.7},{"d":"2015-08-27","v":24.9},{"d":"2015-08-29","v":25.2},{"d":"2015-08-30","v":26.7},
{"d":"2015-09-01","v":27.6},{"d":"2015-09-03","v":26.9},{"d":"2015-09-04","v":28.3},{"d":"2015-09-06","v":28.8},{"d":"2015-09-07","v":29},{"d":"2015-09-08","v":23},{"d":"2015-09-10","v":17.9},{"d":"2015-09-11","v":16.4},{"d":"2015-09-12","v":21},{"d":"2015-09-14","v":21.3},{"d":"2015-09-15","v":21.6},{"d":"2015-09-17","v":22.3},{"d":"2015-09-19","v":25.9},{"d":"2015-09-20","v":25},{"d":"2015-09-21","v":20.6},{"d":"2015-09-23","v":18.2},{"d":"2015-09-24","v":20.4},{"d":"2015-09-25","v":20.3},{"d":"2015-09-26","v":17.6},{"d":"2015-09-28","v":18.4},{"d":"2015-09-29","v":17.6},{"d":"2015-09-30","v":17.2},
{"d":"2015-10-01","v":15.2},{"d":"2015-10-03","v":14.5},{"d":"2015-10-04","v":16.5},{"d":"2015-10-06","v":17.9},{"d":"2015-10-07","v":19.8},{"d":"2015-10-08","v":17.2},{"d":"2015-10-10","v":14.8},{"d":"2015-10-11","v":15.5},{"d":"2015-10-12","v":18.2},{"d":"2015-10-14","v":15.9},{"d":"2015-10-15","v":15.2},{"d":"2015-10-16","v":15.5},{"d":"2015-10-18","v":13.8},{"d":"2015-10-19","v":15.5},{"d":"2015-10-21","v":16.7},{"d":"2015-10-22","v":16.2},{"d":"2015-10-23","v":11.4},{"d":"2015-10-25","v":11.4},{"d":"2015-10-26","v":11.1},{"d":"2015-10-28","v":12.8},{"d":"2015-10-29","v":13},{"d":"2015-10-31","v":11.4},
{"d":"2015-11-01","v":11.4},{"d":"2015-11-03","v":9.9},{"d":"2015-11-04","v":13.1},{"d":"2015-11-06","v":13.6},{"d":"2015-11-08","v":13.5},{"d":"2015-11-09","v":12.6},{"d":"2015-11-10","v":18.2},{"d":"2015-11-12","v":19.8},{"d":"2015-11-14","v":19.3},{"d":"2015-11-15","v":16.2},{"d":"2015-11-16","v":13.1},{"d":"2015-11-17","v":14.5},{"d":"2015-11-18","v":13.1},{"d":"2015-11-19","v":14.5},{"d":"2015-11-20","v":16.2},{"d":"2015-11-21","v":11.1},{"d":"2015-11-22","v":16.2},{"d":"2015-11-23","v":16.2},{"d":"2015-11-24","v":13.1},{"d":"2015-11-25","v":14.1},{"d":"2015-11-27","v":11.8},{"d":"2015-11-28","v":10.4},{"d":"2015-11-30","v":9.4},
{"d":"2015-12-01","v":7.3},{"d":"2015-12-02","v":10.4},{"d":"2015-12-04","v":12.8},{"d":"2015-12-05","v":12.1},{"d":"2015-12-06","v":9.4},{"d":"2015-12-08","v":8.4},{"d":"2015-12-09","v":9.1},{"d":"2015-12-11","v":8.7},{"d":"2015-12-12","v":4.5},{"d":"2015-12-13","v":5.3},{"d":"2015-12-15","v":5.5},{"d":"2015-12-17","v":7.2},{"d":"2015-12-18","v":6},{"d":"2015-12-20","v":4.6},{"d":"2015-12-22","v":7.7},{"d":"2015-12-23","v":9.4},{"d":"2015-12-25","v":11.3},{"d":"2015-12-27","v":11.1},{"d":"2015-12-28","v":9.6},{"d":"2015-12-30","v":12.4},{"d":"2015-12-31","v":12.6},
{"d":"2016-01-01","v":7},{"d":"2016-01-02","v":1.2},{"d":"2016-01-03","v":-3.2},{"d":"2016-01-04","v":-0.8},{"d":"2016-01-05","v":1.9},{"d":"2016-01-07","v":7},{"d":"2016-01-09","v":10.2},{"d":"2016-01-11","v":9.4},{"d":"2016-01-13","v":9.6},{"d":"2016-01-14","v":14.3},{"d":"2016-01-16","v":10.1},{"d":"2016-01-17","v":9},{"d":"2016-01-19","v":7.3},{"d":"2016-01-20","v":0.9},{"d":"2016-01-21","v":-1.5},{"d":"2016-01-23","v":2.6},{"d":"2016-01-25","v":0.2},{"d":"2016-01-26","v":-1.8},{"d":"2016-01-27","v":2.6},{"d":"2016-01-29","v":6.3},{"d":"2016-01-30","v":8.4},
{"d":"2016-02-01","v":11.4},{"d":"2016-02-02","v":10.1},{"d":"2016-02-03","v":13.8},{"d":"2016-02-05","v":15.2},{"d":"2016-02-07","v":10.4},{"d":"2016-02-08","v":5.3},{"d":"2016-02-10","v":5.3},{"d":"2016-02-11","v":5.6},{"d":"2016-02-13","v":7.3},{"d":"2016-02-14","v":10.4},{"d":"2016-02-16","v":9.7},{"d":"2016-02-18","v":13.5},{"d":"2016-02-19","v":13.8},{"d":"2016-02-20","v":13.5},{"d":"2016-02-22","v":11.8},{"d":"2016-02-23","v":9.4},{"d":"2016-02-25","v":12.8},{"d":"2016-02-26","v":12.4},{"d":"2016-02-27","v":10.1},{"d":"2016-02-29","v":11.1},
{"d":"2016-03-01","v":9.7},{"d":"2016-03-03","v":10.1},{"d":"2016-03-04","v":13.5},{"d":"2016-03-06","v":12.1},{"d":"2016-03-07","v":10.1},{"d":"2016-03-08","v":10.1},{"d":"2016-03-10","v":10.2},{"d":"2016-03-11","v":11.4},{"d":"2016-03-13","v":10.1},{"d":"2016-03-14","v":9},{"d":"2016-03-15","v":9.4},{"d":"2016-03-16","v":8.4},{"d":"2016-03-18","v":8},{"d":"2016-03-19","v":4.3},{"d":"2016-03-20","v":5},{"d":"2016-03-22","v":6.7},{"d":"2016-03-23","v":11.4},{"d":"2016-03-24","v":12.1},{"d":"2016-03-26","v":13.1},{"d":"2016-03-27","v":12.1},{"d":"2016-03-28","v":8.4},{"d":"2016-03-30","v":7.5},{"d":"2016-03-31","v":8.7},
{"d":"2016-04-02","v":11.8},{"d":"2016-04-03","v":14.8},{"d":"2016-04-05","v":15.5},{"d":"2016-04-06","v":15.2},{"d":"2016-04-07","v":13.5},{"d":"2016-04-09","v":17.2},{"d":"2016-04-10","v":19.9},{"d":"2016-04-11","v":19.8},{"d":"2016-04-13","v":15.9},{"d":"2016-04-14","v":15.2},{"d":"2016-04-16","v":15.5},{"d":"2016-04-17","v":17.9},{"d":"2016-04-18","v":19.6},{"d":"2016-04-20","v":18.9},{"d":"2016-04-21","v":18.9},{"d":"2016-04-23","v":21},{"d":"2016-04-24","v":17.6},{"d":"2016-04-25","v":13.8},{"d":"2016-04-27","v":15.5},{"d":"2016-04-28","v":15.2},{"d":"2016-04-29","v":15.7},{"d":"2016-04-30","v":12.4},
{"d":"2016-05-02","v":15.2},{"d":"2016-05-03","v":12.1},{"d":"2016-05-04","v":14.8},{"d":"2016-05-05","v":14.5},{"d":"2016-05-07","v":11.8},{"d":"2016-05-08","v":13.8},{"d":"2016-05-10","v":16.5},{"d":"2016-05-12","v":15.5},{"d":"2016-05-13","v":17.2},{"d":"2016-05-15","v":17.6},{"d":"2016-05-16","v":16.2},{"d":"2016-05-17","v":20.3},{"d":"2016-05-19","v":20.1},{"d":"2016-05-20","v":18.6},{"d":"2016-05-21","v":15.5},{"d":"2016-05-23","v":16.5},{"d":"2016-05-24","v":16.2},{"d":"2016-05-25","v":13.8},{"d":"2016-05-27","v":16.5},{"d":"2016-05-28","v":19.3},{"d":"2016-05-29","v":19.6},{"d":"2016-05-31","v":22.7},
{"d":"2016-06-01","v":22.3},{"d":"2016-06-03","v":21.3},{"d":"2016-06-04","v":24.7},{"d":"2016-06-06","v":24},{"d":"2016-06-07","v":23.3},{"d":"2016-06-09","v":23},{"d":"2016-06-10","v":21.3},{"d":"2016-06-11","v":21},{"d":"2016-06-13","v":18.2},{"d":"2016-06-14","v":18.6},{"d":"2016-06-16","v":21.3},{"d":"2016-06-17","v":22.3},{"d":"2016-06-18","v":20.6},{"d":"2016-06-20","v":23},{"d":"2016-06-21","v":25.7},{"d":"2016-06-23","v":28.1},{"d":"2016-06-24","v":26.7},{"d":"2016-06-26","v":29.5},{"d":"2016-06-27","v":30},{"d":"2016-06-29","v":29.1},{"d":"2016-06-30","v":27.1},
{"d":"2016-07-01","v":27.4},{"d":"2016-07-03","v":25.5},{"d":"2016-07-04","v":24.7},{"d":"2016-07-05","v":24.7},{"d":"2016-07-06","v":25.7},{"d":"2016-07-07","v":25},{"d":"2016-07-08","v":26.4},{"d":"2016-07-10","v":27.8},{"d":"2016-07-11","v":24},{"d":"2016-07-13","v":24},{"d":"2016-07-14","v":25.4},{"d":"2016-07-16","v":28.1},{"d":"2016-07-17","v":26.1},{"d":"2016-07-18","v":26.1},{"d":"2016-07-20","v":27.4},{"d":"2016-07-21","v":27.8},{"d":"2016-07-22","v":24.7},{"d":"2016-07-24","v":23.5},{"d":"2016-07-25","v":25.4},{"d":"2016-07-27","v":26.7},{"d":"2016-07-28","v":28.1},{"d":"2016-07-29","v":28.8},{"d":"2016-07-30","v":26.4},
{"d":"2016-08-01","v":24.4},{"d":"2016-08-02","v":26.7},{"d":"2016-08-04","v":28.1},{"d":"2016-08-05","v":28.3},{"d":"2016-08-07","v":27.9},{"d":"2016-08-08","v":26.7},{"d":"2016-08-10","v":26.7},{"d":"2016-08-11","v":27.6},{"d":"2016-08-12","v":27.4},{"d":"2016-08-14","v":23.7},{"d":"2016-08-15","v":25.7},{"d":"2016-08-17","v":27.4},{"d":"2016-08-18","v":24.7},{"d":"2016-08-19","v":21.5},{"d":"2016-08-20","v":22.6},{"d":"2016-08-22","v":25.7},{"d":"2016-08-23","v":25.4},{"d":"2016-08-25","v":25.7},{"d":"2016-08-26","v":23.7},{"d":"2016-08-27","v":26.7},{"d":"2016-08-29","v":20.6},{"d":"2016-08-30","v":23.3},
{"d":"2016-09-01","v":24},{"d":"2016-09-02","v":23.7},{"d":"2016-09-04","v":24.4},{"d":"2016-09-05","v":26.4},{"d":"2016-09-07","v":24},{"d":"2016-09-08","v":22.6},{"d":"2016-09-09","v":24.4},{"d":"2016-09-11","v":23.3},{"d":"2016-09-12","v":22},{"d":"2016-09-13","v":19.3},{"d":"2016-09-14","v":17.6},{"d":"2016-09-15","v":19.3},{"d":"2016-09-17","v":22},{"d":"2016-09-18","v":22.6},{"d":"2016-09-20","v":22.5},{"d":"2016-09-21","v":22},{"d":"2016-09-22","v":23},{"d":"2016-09-24","v":22.1},{"d":"2016-09-25","v":23.7},{"d":"2016-09-26","v":19.9},{"d":"2016-09-27","v":18.6},{"d":"2016-09-29","v":15.7},{"d":"2016-09-30","v":16.2},
{"d":"2016-10-02","v":16.4},{"d":"2016-10-03","v":16.2},{"d":"2016-10-05","v":17.9},{"d":"2016-10-06","v":18.9},{"d":"2016-10-08","v":19.9},{"d":"2016-10-10","v":21.3},{"d":"2016-10-11","v":18.6},{"d":"2016-10-13","v":14.8},{"d":"2016-10-14","v":14.7},{"d":"2016-10-15","v":14.3},{"d":"2016-10-17","v":13.8},{"d":"2016-10-18","v":14.8},{"d":"2016-10-19","v":14},{"d":"2016-10-21","v":15.2},{"d":"2016-10-22","v":15.5},{"d":"2016-10-24","v":12.8},{"d":"2016-10-25","v":10.9},{"d":"2016-10-27","v":11.1},{"d":"2016-10-28","v":12.4},{"d":"2016-10-29","v":14.5},{"d":"2016-10-31","v":16.2},
{"d":"2016-11-01","v":15.9},{"d":"2016-11-03","v":14.1},{"d":"2016-11-04","v":10.7},{"d":"2016-11-06","v":12.1},{"d":"2016-11-07","v":10.1},{"d":"2016-11-09","v":9.7},{"d":"2016-11-10","v":10.1},{"d":"2016-11-11","v":11.8},{"d":"2016-11-13","v":12.8},{"d":"2016-11-14","v":14.8},{"d":"2016-11-15","v":17.9},{"d":"2016-11-17","v":13.8},{"d":"2016-11-18","v":12.4},{"d":"2016-11-19","v":13.3},{"d":"2016-11-21","v":12.1},{"d":"2016-11-22","v":8.4},{"d":"2016-11-23","v":5},{"d":"2016-11-24","v":4.3},{"d":"2016-11-26","v":7.3},{"d":"2016-11-27","v":9.7},{"d":"2016-11-28","v":10.4},{"d":"2016-11-30","v":9.7},
{"d":"2016-12-01","v":9.4},{"d":"2016-12-03","v":7.3},{"d":"2016-12-04","v":7},{"d":"2016-12-05","v":9.4},{"d":"2016-12-06","v":2.2},{"d":"2016-12-08","v":0.7},{"d":"2016-12-09","v":5.3},{"d":"2016-12-10","v":8.4}
]
},
"spacing":246,
"bounds":"flush",
"resolve":{"scale":{"x":"independent","y":"independent","color":"independent","strokeDash":"independent"},"legend":{"color":"independent","strokeDash":"independent"}},
"vconcat":[
{
"width":772,"height":491,
"data":{"name":"t"},
"encoding":{
"x":{"field":"d","type":"temporal","scale":{"type":"utc","domain":[{"year":2015,"month":8,"date":1,"utc":true},{"year":2016,"month":12,"date":12,"utc":true}]},
"axis":{"title":null,"tickSize":7,"labelPadding":28,"labelAngle":-45,"labelAlign":"right","labelBaseline":"middle","labelFontSize":22,"labelOverlap":false,"labelBound":false,"labelFlush":false,
"labelExpr":"utcdate(datum.value) == 1 ? ['Ιαν.','Φεβ.','Μαρ.','Απρ.','Μαϊ.','Ιουν.','Ιουλ.','Αυγ.','Σεπ.','Οκτ.','Νοεμ.','Δεκ.'][utcmonth(datum.value)] + ' ' + utcyear(datum.value) : ''",
"values":[{"year":2015,"month":8,"date":1,"utc":true},{"year":2015,"month":8,"date":16,"utc":true},{"year":2015,"month":9,"date":1,"utc":true},{"year":2015,"month":9,"date":16,"utc":true},{"year":2015,"month":10,"date":1,"utc":true},{"year":2015,"month":10,"date":16,"utc":true},{"year":2015,"month":11,"date":1,"utc":true},{"year":2015,"month":11,"date":16,"utc":true},{"year":2015,"month":12,"date":1,"utc":true},{"year":2015,"month":12,"date":16,"utc":true},{"year":2016,"month":1,"date":1,"utc":true},{"year":2016,"month":1,"date":16,"utc":true},{"year":2016,"month":2,"date":1,"utc":true},{"year":2016,"month":2,"date":16,"utc":true},{"year":2016,"month":3,"date":1,"utc":true},{"year":2016,"month":3,"date":16,"utc":true},{"year":2016,"month":4,"date":1,"utc":true},{"year":2016,"month":4,"date":16,"utc":true},{"year":2016,"month":5,"date":1,"utc":true},{"year":2016,"month":5,"date":16,"utc":true},{"year":2016,"month":6,"date":1,"utc":true},{"year":2016,"month":6,"date":16,"utc":true},{"year":2016,"month":7,"date":1,"utc":true},{"year":2016,"month":7,"date":16,"utc":true},{"year":2016,"month":8,"date":1,"utc":true},{"year":2016,"month":8,"date":16,"utc":true},{"year":2016,"month":9,"date":1,"utc":true},{"year":2016,"month":9,"date":16,"utc":true},{"year":2016,"month":10,"date":1,"utc":true},{"year":2016,"month":10,"date":16,"utc":true},{"year":2016,"month":11,"date":1,"utc":true},{"year":2016,"month":11,"date":16,"utc":true},{"year":2016,"month":12,"date":1,"utc":true}]}},
"y":{"field":"v","type":"quantitative","scale":{"domain":[-10,40],"nice":false,"zero":false},
"axis":{"values":[-10,-5,0,5,10,15,20,25,30,35,40],"labelExpr":"toString(datum.value)","tickSize":10,"labelPadding":18,"labelFontSize":24,"title":"Θερμοκρασίες (°C)","titleFontSize":35,"titleX":-165,"titleY":675,"titleAngle":-90,"titleAlign":"center","titleBaseline":"middle"}},
"color":{"field":"s","type":"nominal","scale":{"domain":["μέγιστη","ελάχιστη"],"range":["#FF0000","#4F81BD"]},
"legend":{"title":null,"orient":"none","legendX":478,"legendY":300,"symbolType":"stroke","symbolSize":4761,"symbolStrokeWidth":3,"labelOffset":4,"rowPadding":3,"labelFontSize":23}},
"strokeDash":{"field":"s","type":"nominal","scale":{"domain":["μέγιστη","ελάχιστη"],"range":[[1,0],[9,4]]},
"legend":{"title":null,"orient":"none","legendX":478,"legendY":300,"symbolType":"stroke","symbolSize":4761,"symbolStrokeWidth":3,"labelOffset":4,"rowPadding":3,"labelFontSize":23}}
},
"layer":[
{"transform":[{"filter":"datum.s == 'ελάχιστη'"}],"mark":{"type":"line","strokeWidth":3}},
{"transform":[{"filter":"datum.s == 'μέγιστη'"}],"mark":{"type":"line","strokeWidth":3}}
]
},
{
"width":763,"height":489,
"data":{"name":"m"},
"mark":{"type":"line","strokeWidth":3.5},
"encoding":{
"x":{"field":"d","type":"temporal","scale":{"type":"utc","domain":[{"year":2015,"month":8,"date":1,"utc":true},{"year":2016,"month":12,"date":12,"utc":true}]},
"axis":{"title":null,"tickSize":7,"labelPadding":28,"labelAngle":-45,"labelAlign":"right","labelBaseline":"middle","labelFontSize":22,"labelOverlap":false,"labelBound":false,"labelFlush":false,
"labelExpr":"['Ιαν.','Φεβ.','Μαρ.','Απρ.','Μαϊ.','Ιουν.','Ιουλ.','Αυγ.','Σεπ.','Οκτ.','Νοεμ.','Δεκ.'][utcmonth(datum.value)] + ' ' + utcyear(datum.value)",
"values":[{"year":2015,"month":8,"date":1,"utc":true},{"year":2015,"month":9,"date":1,"utc":true},{"year":2015,"month":10,"date":1,"utc":true},{"year":2015,"month":11,"date":1,"utc":true},{"year":2015,"month":12,"date":1,"utc":true},{"year":2016,"month":1,"date":1,"utc":true},{"year":2016,"month":2,"date":1,"utc":true},{"year":2016,"month":3,"date":1,"utc":true},{"year":2016,"month":4,"date":1,"utc":true},{"year":2016,"month":5,"date":1,"utc":true},{"year":2016,"month":6,"date":1,"utc":true},{"year":2016,"month":7,"date":1,"utc":true},{"year":2016,"month":8,"date":1,"utc":true},{"year":2016,"month":9,"date":1,"utc":true},{"year":2016,"month":10,"date":1,"utc":true},{"year":2016,"month":11,"date":1,"utc":true},{"year":2016,"month":12,"date":1,"utc":true}]}},
"y":{"field":"v","type":"quantitative","scale":{"domain":[-10,40],"nice":false,"zero":false},
"axis":{"values":[-10,-5,0,5,10,15,20,25,30,35,40],"labelExpr":"toString(datum.value)","tickSize":10,"labelPadding":18,"labelFontSize":24,"title":null}},
"color":{"datum":"μέση","type":"nominal","scale":{"domain":["μέση"],"range":["#77933C"]},
"legend":{"title":null,"orient":"none","legendX":520,"legendY":347,"symbolType":"stroke","symbolSize":2704,"symbolStrokeWidth":3.5,"labelOffset":4,"labelFontSize":23}}
}
}
]
}
